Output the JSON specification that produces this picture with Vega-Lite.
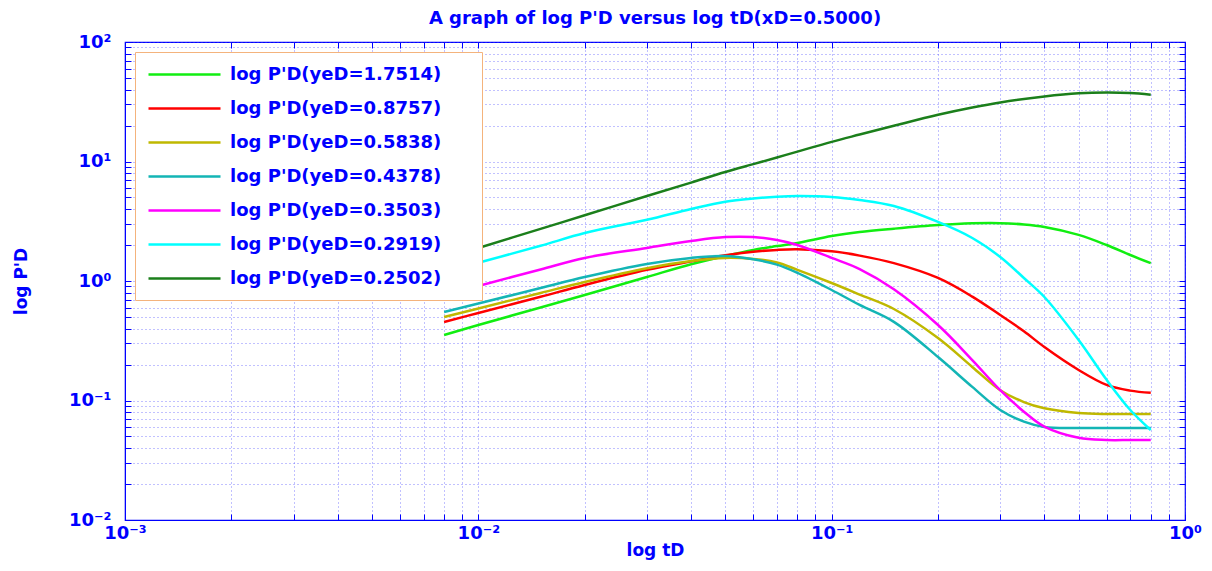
{
  "$schema": "https://vega.github.io/schema/vega-lite/v6.json",
  "width": 1060,
  "height": 478,
  "autosize": {"type": "none"},
  "padding": {"left": 125, "top": 42, "right": 27, "bottom": 51},
  "background": "white",
  "title": {"text": "A graph of log P'D versus log tD(xD=0.5000)", "color": "#0000ff", "font": "DejaVu Sans", "fontWeight": "bold", "fontSize": 18, "offset": 5, "anchor": "middle"},
  "config": {
    "view": {"stroke": "#0000ff", "strokeWidth": 1.2},
    "axis": {"labelFont": "DejaVu Sans", "labelFontWeight": "bold", "labelFontSize": 18, "labelColor": "#0000ff", "titleFont": "DejaVu Sans", "titleFontWeight": "bold", "titleFontSize": 17, "titleColor": "#0000ff", "domainColor": "#0000ff", "tickColor": "#0000ff", "tickSize": -6, "gridColor": "#4040ff", "gridOpacity": 0.65, "gridDash": [1, 3], "gridWidth": 1, "labelOverlap": false, "labelFlush": false}
  },
  "datasets": {
    "curves": [
      {"s": "1.7514", "t": 0.008, "P": 0.353}, {"s": "1.7514", "t": 0.01, "P": 0.428}, {"s": "1.7514", "t": 0.015, "P": 0.600}, {"s": "1.7514", "t": 0.02, "P": 0.764}, {"s": "1.7514", "t": 0.03, "P": 1.08}, {"s": "1.7514", "t": 0.04, "P": 1.38}, {"s": "1.7514", "t": 0.05, "P": 1.62}, {"s": "1.7514", "t": 0.06, "P": 1.82}, {"s": "1.7514", "t": 0.07, "P": 1.96}, {"s": "1.7514", "t": 0.08, "P": 2.08}, {"s": "1.7514", "t": 0.1, "P": 2.38}, {"s": "1.7514", "t": 0.12, "P": 2.57}, {"s": "1.7514", "t": 0.15, "P": 2.74}, {"s": "1.7514", "t": 0.2, "P": 2.94}, {"s": "1.7514", "t": 0.25, "P": 3.04}, {"s": "1.7514", "t": 0.3, "P": 3.05}, {"s": "1.7514", "t": 0.35, "P": 2.97}, {"s": "1.7514", "t": 0.4, "P": 2.83}, {"s": "1.7514", "t": 0.5, "P": 2.43}, {"s": "1.7514", "t": 0.6, "P": 2.0}, {"s": "1.7514", "t": 0.7, "P": 1.65}, {"s": "1.7514", "t": 0.8, "P": 1.41},
      {"s": "0.8757", "t": 0.008, "P": 0.454}, {"s": "0.8757", "t": 0.01, "P": 0.540}, {"s": "0.8757", "t": 0.015, "P": 0.739}, {"s": "0.8757", "t": 0.02, "P": 0.926}, {"s": "0.8757", "t": 0.03, "P": 1.24}, {"s": "0.8757", "t": 0.04, "P": 1.46}, {"s": "0.8757", "t": 0.05, "P": 1.64}, {"s": "0.8757", "t": 0.06, "P": 1.76}, {"s": "0.8757", "t": 0.07, "P": 1.82}, {"s": "0.8757", "t": 0.08, "P": 1.84}, {"s": "0.8757", "t": 0.1, "P": 1.77}, {"s": "0.8757", "t": 0.12, "P": 1.63}, {"s": "0.8757", "t": 0.15, "P": 1.41}, {"s": "0.8757", "t": 0.2, "P": 1.06}, {"s": "0.8757", "t": 0.25, "P": 0.74}, {"s": "0.8757", "t": 0.3, "P": 0.519}, {"s": "0.8757", "t": 0.35, "P": 0.38}, {"s": "0.8757", "t": 0.4, "P": 0.280}, {"s": "0.8757", "t": 0.5, "P": 0.180}, {"s": "0.8757", "t": 0.6, "P": 0.135}, {"s": "0.8757", "t": 0.7, "P": 0.121}, {"s": "0.8757", "t": 0.8, "P": 0.116},
      {"s": "0.5838", "t": 0.008, "P": 0.500}, {"s": "0.5838", "t": 0.01, "P": 0.589}, {"s": "0.5838", "t": 0.015, "P": 0.794}, {"s": "0.5838", "t": 0.02, "P": 0.981}, {"s": "0.5838", "t": 0.03, "P": 1.28}, {"s": "0.5838", "t": 0.04, "P": 1.47}, {"s": "0.5838", "t": 0.05, "P": 1.56}, {"s": "0.5838", "t": 0.06, "P": 1.53}, {"s": "0.5838", "t": 0.07, "P": 1.43}, {"s": "0.5838", "t": 0.08, "P": 1.24}, {"s": "0.5838", "t": 0.1, "P": 0.962}, {"s": "0.5838", "t": 0.12, "P": 0.77}, {"s": "0.5838", "t": 0.15, "P": 0.583}, {"s": "0.5838", "t": 0.2, "P": 0.333}, {"s": "0.5838", "t": 0.25, "P": 0.191}, {"s": "0.5838", "t": 0.3, "P": 0.122}, {"s": "0.5838", "t": 0.35, "P": 0.097}, {"s": "0.5838", "t": 0.4, "P": 0.086}, {"s": "0.5838", "t": 0.5, "P": 0.0786}, {"s": "0.5838", "t": 0.6, "P": 0.0771}, {"s": "0.5838", "t": 0.7, "P": 0.0771}, {"s": "0.5838", "t": 0.8, "P": 0.0771},
      {"s": "0.4378", "t": 0.008, "P": 0.550}, {"s": "0.4378", "t": 0.01, "P": 0.648}, {"s": "0.4378", "t": 0.015, "P": 0.873}, {"s": "0.4378", "t": 0.02, "P": 1.08}, {"s": "0.4378", "t": 0.03, "P": 1.39}, {"s": "0.4378", "t": 0.04, "P": 1.56}, {"s": "0.4378", "t": 0.05, "P": 1.62}, {"s": "0.4378", "t": 0.06, "P": 1.52}, {"s": "0.4378", "t": 0.07, "P": 1.37}, {"s": "0.4378", "t": 0.08, "P": 1.17}, {"s": "0.4378", "t": 0.1, "P": 0.841}, {"s": "0.4378", "t": 0.12, "P": 0.630}, {"s": "0.4378", "t": 0.15, "P": 0.455}, {"s": "0.4378", "t": 0.2, "P": 0.231}, {"s": "0.4378", "t": 0.25, "P": 0.130}, {"s": "0.4378", "t": 0.3, "P": 0.0833}, {"s": "0.4378", "t": 0.35, "P": 0.0665}, {"s": "0.4378", "t": 0.4, "P": 0.0600}, {"s": "0.4378", "t": 0.5, "P": 0.0589}, {"s": "0.4378", "t": 0.6, "P": 0.0589}, {"s": "0.4378", "t": 0.7, "P": 0.0589}, {"s": "0.4378", "t": 0.8, "P": 0.0589},
      {"s": "0.3503", "t": 0.008, "P": 0.764}, {"s": "0.3503", "t": 0.01, "P": 0.908}, {"s": "0.3503", "t": 0.015, "P": 1.25}, {"s": "0.3503", "t": 0.02, "P": 1.56}, {"s": "0.3503", "t": 0.03, "P": 1.89}, {"s": "0.3503", "t": 0.04, "P": 2.16}, {"s": "0.3503", "t": 0.05, "P": 2.33}, {"s": "0.3503", "t": 0.06, "P": 2.33}, {"s": "0.3503", "t": 0.07, "P": 2.20}, {"s": "0.3503", "t": 0.08, "P": 2.00}, {"s": "0.3503", "t": 0.1, "P": 1.56}, {"s": "0.3503", "t": 0.12, "P": 1.26}, {"s": "0.3503", "t": 0.15, "P": 0.853}, {"s": "0.3503", "t": 0.2, "P": 0.428}, {"s": "0.3503", "t": 0.25, "P": 0.218}, {"s": "0.3503", "t": 0.3, "P": 0.122}, {"s": "0.3503", "t": 0.35, "P": 0.0806}, {"s": "0.3503", "t": 0.4, "P": 0.0604}, {"s": "0.3503", "t": 0.5, "P": 0.0487}, {"s": "0.3503", "t": 0.6, "P": 0.0467}, {"s": "0.3503", "t": 0.7, "P": 0.0467}, {"s": "0.3503", "t": 0.8, "P": 0.0467},
      {"s": "0.2919", "t": 0.008, "P": 1.17}, {"s": "0.2919", "t": 0.01, "P": 1.42}, {"s": "0.2919", "t": 0.015, "P": 1.97}, {"s": "0.2919", "t": 0.02, "P": 2.52}, {"s": "0.2919", "t": 0.03, "P": 3.25}, {"s": "0.2919", "t": 0.04, "P": 4.0}, {"s": "0.2919", "t": 0.05, "P": 4.6}, {"s": "0.2919", "t": 0.06, "P": 4.9}, {"s": "0.2919", "t": 0.07, "P": 5.07}, {"s": "0.2919", "t": 0.08, "P": 5.14}, {"s": "0.2919", "t": 0.1, "P": 5.05}, {"s": "0.2919", "t": 0.12, "P": 4.76}, {"s": "0.2919", "t": 0.15, "P": 4.24}, {"s": "0.2919", "t": 0.2, "P": 3.12}, {"s": "0.2919", "t": 0.25, "P": 2.29}, {"s": "0.2919", "t": 0.3, "P": 1.59}, {"s": "0.2919", "t": 0.35, "P": 1.06}, {"s": "0.2919", "t": 0.4, "P": 0.735}, {"s": "0.2919", "t": 0.5, "P": 0.321}, {"s": "0.2919", "t": 0.6, "P": 0.149}, {"s": "0.2919", "t": 0.7, "P": 0.0833}, {"s": "0.2919", "t": 0.8, "P": 0.0566},
      {"s": "0.2502", "t": 0.008, "P": 1.54}, {"s": "0.2502", "t": 0.01, "P": 1.89}, {"s": "0.2502", "t": 0.015, "P": 2.73}, {"s": "0.2502", "t": 0.02, "P": 3.55}, {"s": "0.2502", "t": 0.03, "P": 5.14}, {"s": "0.2502", "t": 0.04, "P": 6.66}, {"s": "0.2502", "t": 0.05, "P": 8.17}, {"s": "0.2502", "t": 0.06, "P": 9.5}, {"s": "0.2502", "t": 0.07, "P": 10.8}, {"s": "0.2502", "t": 0.08, "P": 12.1}, {"s": "0.2502", "t": 0.1, "P": 14.6}, {"s": "0.2502", "t": 0.12, "P": 16.8}, {"s": "0.2502", "t": 0.15, "P": 19.9}, {"s": "0.2502", "t": 0.2, "P": 24.6}, {"s": "0.2502", "t": 0.25, "P": 28.3}, {"s": "0.2502", "t": 0.3, "P": 31.2}, {"s": "0.2502", "t": 0.4, "P": 35.0}, {"s": "0.2502", "t": 0.5, "P": 37.2}, {"s": "0.2502", "t": 0.6, "P": 37.8}, {"s": "0.2502", "t": 0.7, "P": 37.4}, {"s": "0.2502", "t": 0.8, "P": 36.2}
    ]
  },
  "data": {"name": "curves"},
  "resolve": {"axis": {"x": "independent", "y": "independent"}},
  "layer": [
    {
      "mark": {"type": "line", "opacity": 0},
      "encoding": {
        "x": {"field": "t", "type": "quantitative", "scale": {"type": "log", "domain": [0.001, 1], "nice": false},
          "axis": {"orient": "top", "labels": false, "title": null, "grid": false, "domain": false, "values": [0.001,0.002,0.003,0.004,0.005,0.006,0.007,0.008,0.009,0.01,0.02,0.03,0.04,0.05,0.06,0.07,0.08,0.09,0.1,0.2,0.3,0.4,0.5,0.6,0.7,0.8,0.9,1]}},
        "y": {"field": "P", "type": "quantitative", "scale": {"type": "log", "domain": [0.01, 100], "nice": false},
          "axis": {"orient": "right", "labels": false, "title": null, "grid": false, "domain": false, "values": [0.01,0.02,0.03,0.04,0.05,0.06,0.07,0.08,0.09,0.1,0.2,0.3,0.4,0.5,0.6,0.7,0.8,0.9,1,2,3,4,5,6,7,8,9,10,20,30,40,50,60,70,80,90,100]}},
        "detail": {"field": "s", "type": "nominal"}
      }
    },
    {
      "mark": {"type": "line", "strokeWidth": 2.5, "interpolate": "catmull-rom"},
      "encoding": {
        "x": {"field": "t", "type": "quantitative", "scale": {"type": "log", "domain": [0.001, 1], "nice": false},
          "axis": {"orient": "bottom", "grid": true, "title": "log tD", "titlePadding": 0, "labelPadding": 10, "values": [0.001,0.002,0.003,0.004,0.005,0.006,0.007,0.008,0.009,0.01,0.02,0.03,0.04,0.05,0.06,0.07,0.08,0.09,0.1,0.2,0.3,0.4,0.5,0.6,0.7,0.8,0.9,1],
            "labelExpr": "datum.value == 0.001 ? '10⁻³' : datum.value == 0.01 ? '10⁻²' : datum.value == 0.1 ? '10⁻¹' : datum.value == 1 ? '10⁰' : ''"}},
        "y": {"field": "P", "type": "quantitative", "scale": {"type": "log", "domain": [0.01, 100], "nice": false},
          "axis": {"orient": "left", "grid": true, "title": "log P'D", "titlePadding": 38, "labelPadding": 20, "values": [0.01,0.02,0.03,0.04,0.05,0.06,0.07,0.08,0.09,0.1,0.2,0.3,0.4,0.5,0.6,0.7,0.8,0.9,1,2,3,4,5,6,7,8,9,10,20,30,40,50,60,70,80,90,100],
            "labelExpr": "datum.value == 0.01 ? '10⁻²' : datum.value == 0.1 ? '10⁻¹' : datum.value == 1 ? '10⁰' : datum.value == 10 ? '10¹' : datum.value == 100 ? '10²' : ''"}},
        "color": {"field": "s", "type": "nominal",
          "scale": {"domain": ["1.7514", "0.8757", "0.5838", "0.4378", "0.3503", "0.2919", "0.2502"], "range": ["#11ee11", "#ff0000", "#bfb800", "#13b5b5", "#ff00ff", "#00ffff", "#1b7f1b"]},
          "legend": {"orient": "top-left", "offset": 10, "title": null, "fillColor": "white", "strokeColor": "#f4b37c", "padding": 12, "symbolType": "M-1,0H7", "symbolSize": 324, "symbolStrokeWidth": 2.5, "labelFont": "DejaVu Sans", "labelFontWeight": "bold", "labelFontSize": 18, "labelColor": "#0000ff", "labelOffset": 62, "labelLimit": 500, "rowPadding": 14,
            "labelExpr": "'log P\\'D(yeD=' + datum.label + ')\u2800\u2800'"}}
      }
    }
  ]
}
